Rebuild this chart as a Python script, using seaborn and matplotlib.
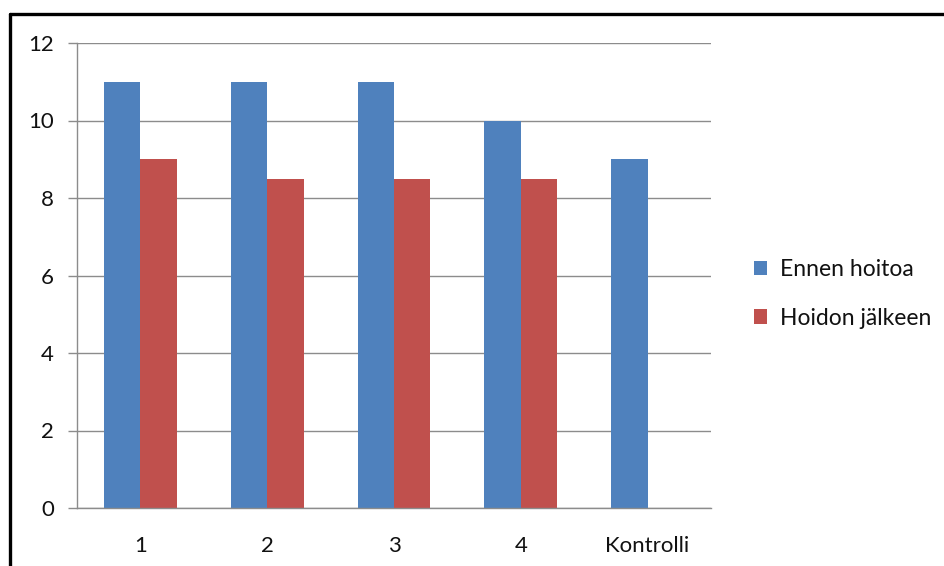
import matplotlib
matplotlib.use("Agg")
import matplotlib.pyplot as plt
from matplotlib.lines import Line2D
from matplotlib.patches import Patch
import numpy as np
import pandas as pd
import seaborn as sns

categories = ["1", "2", "3", "4", "Kontrolli"]
ennen_hoitoa = [11, 11, 11, 10, 9]
hoidon_jalkeen = [9, 8.5, 8.5, 8.5, np.nan]
series_names = ["Ennen hoitoa", "Hoidon jälkeen"]
y_ticks = [0, 2, 4, 6, 8, 10, 12]

df = pd.DataFrame({
    "ryhma": categories * 2,
    "arvo": ennen_hoitoa + hoidon_jalkeen,
    "sarja": [series_names[0]] * len(categories) + [series_names[1]] * len(categories),
})

sns.set_theme(style="white")
plt.rcParams["font.family"] = ["Lato", "DejaVu Sans"]

colors = ["#4F81BD", "#C0504D"]
grid_color = "#8C8C8C"
text_color = "#111111"

W, H = 944, 566
fig = plt.figure(figsize=(W / 100, H / 100), dpi=100)
ax = fig.add_axes([77 / W, (H - 508) / H, (711 - 77) / W, (508 - 43) / H])

sns.barplot(data=df, x="ryhma", y="arvo", hue="sarja", order=categories,
            hue_order=series_names, palette=colors, width=0.575,
            saturation=1, linewidth=0, ax=ax, legend=False, errorbar=None)

ax.set_ylim(0, 12)
ax.set_yticks(y_ticks)
ax.set_xlim(-0.5, len(categories) - 0.5)
ax.set_xlabel("")
ax.set_ylabel("")
ax.yaxis.grid(True, color=grid_color, linewidth=1.0)
ax.set_axisbelow(True)
for side in ["top", "right"]:
    ax.spines[side].set_visible(False)
ax.spines["left"].set_color(grid_color)
ax.spines["left"].set_linewidth(1.0)
ax.spines["bottom"].set_color(grid_color)
ax.spines["bottom"].set_linewidth(1.0)
ax.tick_params(axis="y", length=6.5, width=1.0, color=grid_color, pad=10,
               labelsize=16, labelcolor=text_color, left=True)
ax.tick_params(axis="x", length=0, pad=20, labelsize=16, labelcolor=text_color)

handles = [Patch(facecolor=c, edgecolor="none") for c in colors]
fig.legend(handles, series_names, loc="center left",
           bbox_to_anchor=(733 / W, 1 - 294 / H), frameon=False,
           fontsize=16.5, handlelength=0.6, handleheight=0.6,
           handletextpad=0.55, labelspacing=1.2, labelcolor=text_color)

# outer frame along the top and left edges
fig.add_artist(Line2D([10 / W, 1.0], [1 - 14 / H, 1 - 14 / H],
                      transform=fig.transFigure, color="black", linewidth=2.4))
fig.add_artist(Line2D([10 / W, 10 / W], [0, 1 - 14 / H],
                      transform=fig.transFigure, color="black", linewidth=2.4))

fig.savefig("out.png", dpi=100)
